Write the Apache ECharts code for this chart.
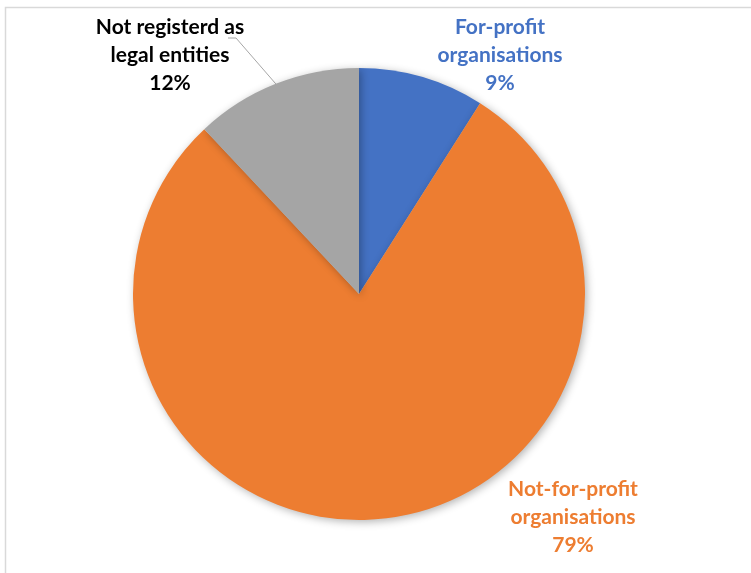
<!DOCTYPE html>
<html>
<head>
<meta charset="utf-8">
<script src="https://cdn.jsdelivr.net/npm/echarts@6/dist/echarts.min.js"></script>
<style>
html,body{margin:0;padding:0;background:#fff;}
#chart{width:751px;height:573px;}
</style>
</head>
<body>
<div id="chart"></div>
<script>
var categories = ['For-profit\norganisations', 'Not-for-profit\norganisations', 'Not registerd as\nlegal entities'];
var values = [9, 79, 12];
var colors = ['#4472C4', '#ED7D31', '#A5A5A5'];
var labelColors = ['#4472C4', '#ED7D31', '#000000'];
var labelPos = [[500, 55], [573, 517], [170, 55]];

var chart = echarts.init(document.getElementById('chart'), null, {renderer: 'canvas'});
var data = categories.map(function (c, i) {
  return {
    name: c,
    value: values[i],
    itemStyle: {color: colors[i]},
    label: {color: labelColors[i]},
    labelLine: {show: i === 2}
  };
});
chart.setOption({
  animation: false,
  graphic: [{
    type: 'rect',
    shape: {x: 5.5, y: 7.5, width: 800, height: 600},
    style: {fill: 'none', stroke: '#d9d9d9', lineWidth: 1.5},
    silent: true
  }],
  series: [{
    type: 'pie',
    center: [359, 294],
    radius: 226,
    startAngle: 90,
    clockwise: true,
    data: data,
    itemStyle: {
      shadowBlur: 8,
      shadowColor: 'rgba(0,0,0,0.3)',
      shadowOffsetX: 2,
      shadowOffsetY: 2
    },
    label: {
      show: true,
      position: 'outside',
      formatter: '{b}\n{c}%',
      fontFamily: 'Lato',
      fontWeight: 'bold',
      fontSize: 21,
      lineHeight: 28,
      align: 'center'
    },
    labelLine: {
      lineStyle: {color: '#a6a6a6', width: 1}
    },
    labelLayout: function (p) {
      var pos = labelPos[p.dataIndex];
      var res = {x: pos[0], y: pos[1], align: 'center', verticalAlign: 'middle'};
      if (p.dataIndex === 2 && p.labelLinePoints) {
        var start = p.labelLinePoints[0];
        res.labelLinePoints = [start, [236, 38], [228, 38]];
      }
      return res;
    },
    emphasis: {disabled: true}
  }]
});
</script>
</body>
</html>
